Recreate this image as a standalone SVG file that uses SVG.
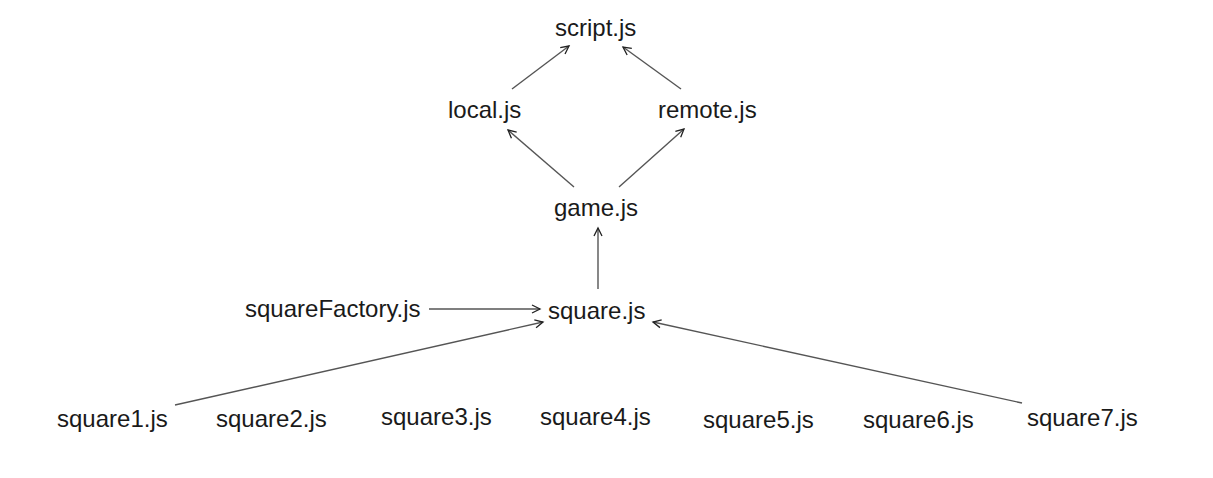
<svg xmlns="http://www.w3.org/2000/svg" width="1213" height="478" viewBox="0 0 1213 478">
<style>
.lbl{font-family:"Liberation Sans",Arial,sans-serif;font-size:24px;fill:#1a1a1a}
.edge{stroke:#555;stroke-width:1.4;fill:none;marker-end:url(#arr)}
</style>
<defs>
<marker id="arr" markerUnits="userSpaceOnUse" markerWidth="12" markerHeight="12" refX="9" refY="5" orient="auto">
<path d="M1,1 L9,5 L1,9" fill="none" stroke="#222" stroke-width="1.3"/>
</marker>
</defs>
<rect width="1213" height="478" fill="#fff"/>
<g id="connectors">
<line class="edge" x1="512" y1="89" x2="569" y2="46"/>
<line class="edge" x1="681" y1="89" x2="623" y2="47"/>
<line class="edge" x1="574" y1="187" x2="508" y2="130"/>
<line class="edge" x1="619" y1="187" x2="684" y2="129"/>
<line class="edge" x1="598" y1="289" x2="598" y2="228"/>
<line class="edge" x1="429" y1="309" x2="540" y2="309"/>
<line class="edge" x1="175" y1="405" x2="543" y2="322"/>
<line class="edge" x1="1022" y1="403" x2="653" y2="322"/>
</g>
<g id="script"><text class="lbl" x="555" y="36">script.js</text></g>
<g id="local"><text class="lbl" x="448" y="118">local.js</text></g>
<g id="remote"><text class="lbl" x="658" y="118">remote.js</text></g>
<g id="game"><text class="lbl" x="554" y="216">game.js</text></g>
<g id="squareFactory"><text class="lbl" x="245" y="317">squareFactory.js</text></g>
<g id="square"><text class="lbl" x="548" y="319">square.js</text></g>
<g id="square1"><text class="lbl" x="57" y="427">square1.js</text></g>
<g id="square2"><text class="lbl" x="216" y="427">square2.js</text></g>
<g id="square3"><text class="lbl" x="381" y="425">square3.js</text></g>
<g id="square4"><text class="lbl" x="540" y="425">square4.js</text></g>
<g id="square5"><text class="lbl" x="703" y="428">square5.js</text></g>
<g id="square6"><text class="lbl" x="863" y="428">square6.js</text></g>
<g id="square7"><text class="lbl" x="1027" y="426">square7.js</text></g>
</svg>
